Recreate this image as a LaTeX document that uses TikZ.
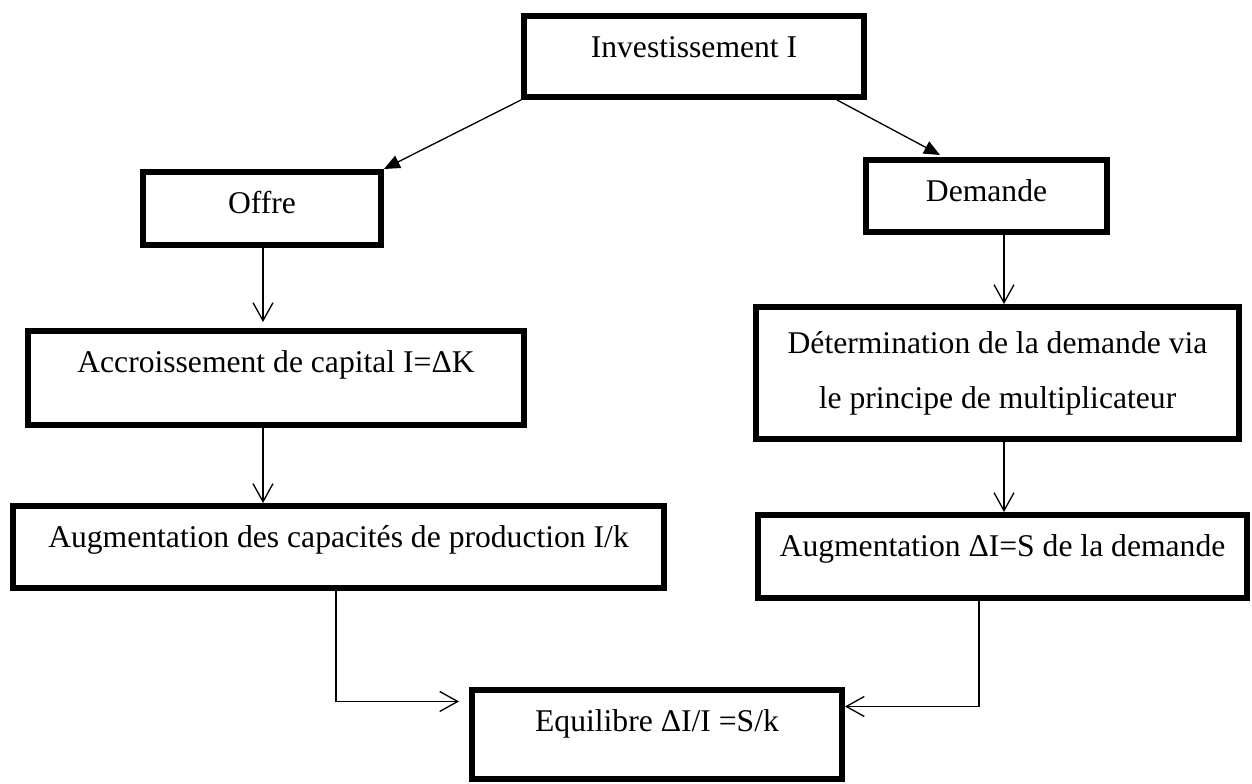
\documentclass[tikz,border=0pt]{standalone}
\usepackage{fontspec}
\setmainfont{Liberation Serif}
\usetikzlibrary{arrows.meta}

\begin{document}
\begin{tikzpicture}[x=0.02cm, y=-0.02cm,
      font=\fontsize{18}{31.3}\selectfont,
      bx/.style={rectangle, draw, line width=3.4pt, outer sep=1.7pt, inner sep=0pt,
                 anchor=north, align=center},
      txt/.style={text height=0.84cm, text depth=#1},
      solidarr/.style={-{Triangle[length=0.32cm,width=0.27cm]}, line width=0.75pt},
      openarr/.style={-{Straight Barb[length=0.36cm,width=0.4cm]}, line width=0.75pt}]
    \useasboundingbox (0,0) rectangle (1252,784);
    \node[bx, txt=0.78cm, minimum width=6.8cm]  (inv)    at (694,13)    {Investissement I};
    \node[bx, txt=0.62cm, minimum width=4.76cm] (offre)  at (262,169)   {Offre};
    \node[bx, txt=0.6cm,  minimum width=4.82cm] (dem)    at (986.5,157) {Demande};
    \node[bx, txt=1.04cm, minimum width=9.92cm] (accr)   at (276,328)   {Accroissement de capital I=ΔK};
    \node[bx, minimum width=9.66cm, minimum height=2.64cm] (determ) at (997.5,304)
        {Détermination de la demande via\\le principe de multiplicateur};
    \node[bx, txt=0.8cm,  minimum width=13.02cm] (augcap) at (338.5,503) {Augmentation des capacités de production I/k};
    \node[bx, txt=0.82cm, minimum width=9.78cm]  (augdem) at (1002.5,512) {Augmentation ΔI=S de la demande};
    \node[bx, txt=0.94cm, minimum width=7.4cm]   (equil)  at (657,687)   {Equilibre ΔI/I =S/k};

    \coordinate (lx) at (263,0);
    \coordinate (rx) at (1004,0);
    \coordinate (lb) at (336,0);
    \coordinate (rb) at (979,0);

    \draw[solidarr] (inv.south west) -- (offre.north east);
    \draw[solidarr] ([xshift=-0.6cm]inv.south east) -- ([xshift=-0.93cm,yshift=0.04cm]dem.north);
    \draw[openarr, shorten >=0.12cm] (offre.south -| lx) -- (accr.north -| lx);
    \draw[openarr] (accr.south -| lx) -- (augcap.north -| lx);
    \draw[openarr] (dem.south -| rx) -- (determ.north -| rx);
    \draw[openarr] (determ.south -| rx) -- (augdem.north -| rx);
    \draw[openarr, shorten >=0.2cm] (augcap.south -| lb) |- ([yshift=0.66cm]equil.west);
    \draw[openarr] (augdem.south -| rb) |- ([yshift=0.56cm]equil.east);
  \end{tikzpicture}
\end{document}
